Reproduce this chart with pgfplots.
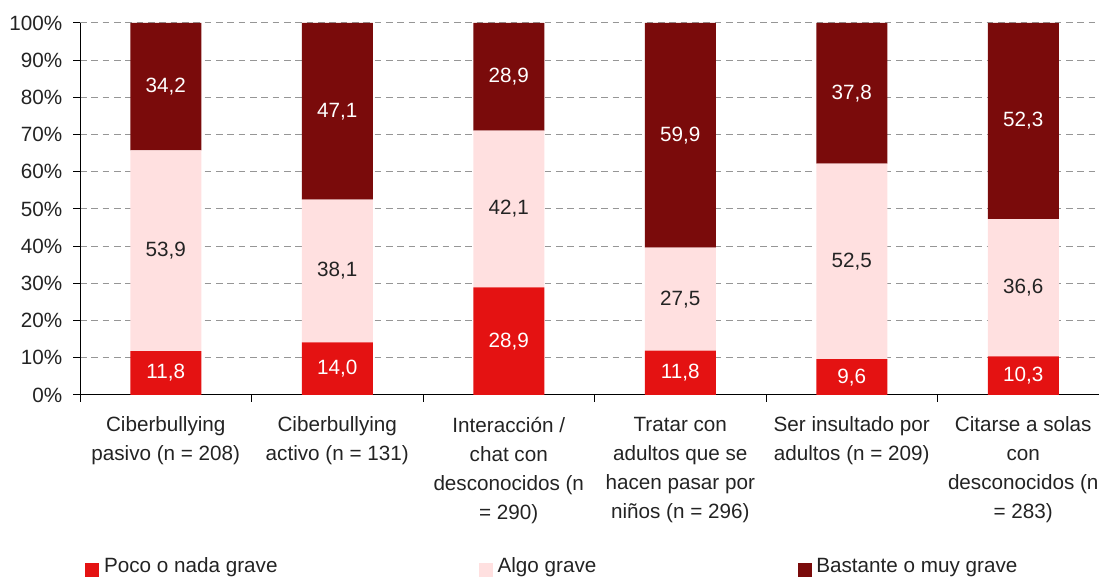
\documentclass[border=0pt]{standalone}
\usepackage{pgfplots}
\usepackage{pgfplotstable}
\pgfplotsset{compat=1.18}
\usepackage{fontspec}
\setmainfont{Liberation Sans}
\definecolor{cRed}{RGB}{228,18,18}
\definecolor{cPink}{RGB}{255,224,224}
\definecolor{cDark}{RGB}{122,11,11}
\definecolor{cGrid}{RGB}{150,150,150}
\definecolor{cText}{RGB}{35,35,35}
% y = share normalised to 100 (as the 100% stacked chart does),
% v = printed value, m = middle of the segment (for the label)
\pgfplotstableread{
x y v m
0 11.812 11.8 5.906
1 14.113 14.0 7.057
2 28.929 28.9 14.465
3 11.895 11.8 5.948
4 9.610 9.6 4.805
5 10.383 10.3 5.192
}\poco
\pgfplotstableread{
x y v m
0 53.954 53.9 38.789
1 38.407 38.1 33.317
2 42.142 42.1 50.000
3 27.722 27.5 25.756
4 52.553 52.5 35.887
5 36.895 36.6 28.831
}\algo
\pgfplotstableread{
x y v m
0 34.234 34.2 82.883
1 47.480 47.1 76.260
2 28.929 28.9 85.536
3 60.383 59.9 69.809
4 37.838 37.8 81.082
5 52.722 52.3 73.639
}\bastante
\pgfplotsset{
  frame/.style={at={(0pt,0pt)}, anchor=south west,
    scale only axis, width=771.75pt, height=279pt,
    xmin=-0.5, xmax=5.5, ymin=0, ymax=100},
  vlabel/.style={draw=none, mark=none, point meta=explicit,
    nodes near coords={\pgfmathprintnumber[fixed,fixed zerofill,precision=1,use comma,assume math mode=true]{\pgfplotspointmeta}},
    every node near coord/.append style={text=#1, anchor=center, font=\fontsize{15.5}{21.75}\selectfont}},
}
\begin{document}
\fontsize{15.5}{21.75}\selectfont
\begin{tikzpicture}
\useasboundingbox (-60pt,-136.5pt) rectangle (764.25pt,296.25pt);
\clip (-60pt,-136.5pt) rectangle (764.25pt,296.25pt);
\begin{axis}[
  frame,
  ybar stacked, bar width=53.25pt,
  axis x line*=bottom, axis y line*=left,
  axis line style={black, line width=0.75pt},
  tick style={black, line width=0.75pt},
  tick align=outside, major tick length=5pt,
  ytick={0,10,...,100},
  yticklabels={0\%,10\%,20\%,30\%,40\%,50\%,60\%,70\%,80\%,90\%,100\%},
  yticklabel style={text=cText, xshift=-3pt, font=\fontsize{15.5}{21.75}\selectfont},
  ymajorgrids,
  grid style={cGrid, line width=0.75pt, dash pattern=on 5pt off 3.5pt},
  xtick={-0.5,0.5,...,5.5},
  xticklabels={},
  extra x ticks={0,1,2,3,4,5},
  extra x tick labels={{Ciberbullying\\pasivo (n = 208)},{Ciberbullying\\activo (n = 131)},{Interacción /\\chat con\\desconocidos (n\\= 290)},{Tratar con\\adultos que se\\hacen pasar por\\niños (n = 296)},{Ser insultado por\\adultos (n = 209)},{Citarse a solas\\con\\desconocidos (n\\= 283)}},
  extra x tick style={major tick length=0pt, xticklabel style={align=center, text=cText, anchor=north, yshift=-11pt, font=\fontsize{15.5}{21.75}\selectfont}},
  legend columns=3,
  legend style={draw=none, fill=none, at={(0.005,-0.462)}, anchor=west, inner sep=0pt,
    font=\fontsize{15.5}{21.75}\selectfont, text=cText,
    cells={anchor=west},
    /tikz/every even column/.append style={column sep=149pt}},
  every axis plot post/.append style={legend image code/.code={\fill[##1] (0pt,-8.6pt) rectangle (10.5pt,2.6pt); \path (12pt,0pt);}},
]
\addplot[fill=cRed, draw=none] table[x=x, y=y] {\poco};
\addlegendentry{Poco o nada grave}
\addplot[fill=cPink, draw=none] table[x=x, y=y] {\algo};
\addlegendentry{Algo grave}
\addplot[fill=cDark, draw=none] table[x=x, y=y] {\bastante};
\addlegendentry{Bastante o muy grave}
\end{axis}
\begin{axis}[frame, hide axis]
\addplot[vlabel=white] table[x=x, y=m, meta=v] {\poco};
\addplot[vlabel=cText] table[x=x, y=m, meta=v] {\algo};
\addplot[vlabel=white] table[x=x, y=m, meta=v] {\bastante};
\end{axis}
\end{tikzpicture}
\end{document}
